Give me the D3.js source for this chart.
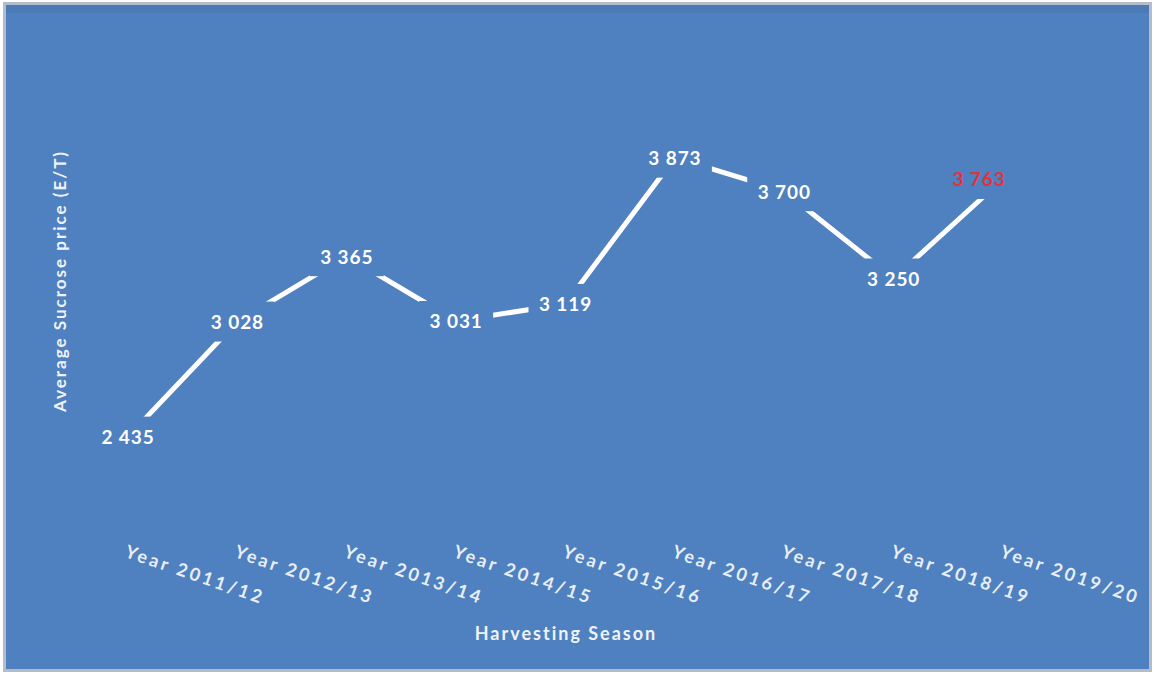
<!DOCTYPE html>
<html>
<head>
<meta charset="utf-8">
<script src="https://cdn.jsdelivr.net/npm/d3@7"></script>
<style>
  html, body { margin: 0; padding: 0; background: #ffffff; }
  svg { display: block; }
  text { font-family: Lato, "Open Sans", sans-serif; }
</style>
</head>
<body>
<svg id="chart" width="1154" height="675"></svg>
<script>
// Harvesting seasons and the average sucrose price for each (E/T)
const seasons = [
  "Year 2011/12", "Year 2012/13", "Year 2013/14", "Year 2014/15", "Year 2015/16",
  "Year 2016/17", "Year 2017/18", "Year 2018/19", "Year 2019/20"
];
const prices = [2435, 3028, 3365, 3031, 3119, 3873, 3700, 3250, 3763];
const xTitle = "Harvesting Season";
const yTitle = "Average Sucrose price (E/T)";

const W = 1154, H = 675;
const bg = "#4f80bf";
const svg = d3.select("#chart");

// chart area frame and fill
svg.append("rect")
  .attr("x", 4.5).attr("y", 3.5).attr("width", W - 8).attr("height", H - 8)
  .attr("fill", bg).attr("stroke", "#b3bcc8").attr("stroke-width", 3);
svg.append("rect")
  .attr("x", 6).attr("y", 5).attr("width", W - 11).attr("height", 8)
  .attr("fill", "#4a78b2").attr("opacity", 0.6);

const x = d3.scalePoint().domain(seasons).range([128, 1003]);
const y = d3.scaleLinear().domain([2000, 4000]).range([521, 133]);

const data = seasons.map((s, i) => ({ season: s, price: prices[i], last: i === seasons.length - 1 }));

// price line
const line = d3.line().x(d => x(d.season)).y(d => y(d.price));
svg.append("path")
  .datum(data)
  .attr("d", line)
  .attr("fill", "none")
  .attr("stroke", "#ffffff")
  .attr("stroke-width", 5)
  .attr("stroke-linejoin", "round");

// value labels sit on a knock-out box in the background colour
const fmt = v => d3.format(",")(v).replace(/,/g, " ");
const labels = svg.append("g").selectAll("g")
  .data(data)
  .join("g")
  .attr("transform", d => `translate(${x(d.season) + (d.last ? -24 : 0)},${y(d.price)})`);

labels.append("rect")
  .attr("x", -37).attr("y", -20).attr("width", 74).attr("height", 40)
  .attr("fill", bg);

labels.append("text")
  .attr("text-anchor", "middle")
  .attr("dominant-baseline", "central")
  .attr("font-size", 19)
  .attr("font-weight", 700)
  .attr("letter-spacing", 0.9)
  .attr("fill", d => d.last ? "#e2333d" : "#ffffff")
  .text(d => fmt(d.price));

// category axis labels, slanted downward
const xAxis = d3.axisBottom(x).tickSize(0).tickPadding(0);
const gx = svg.append("g")
  .attr("transform", "translate(0,544)")
  .call(xAxis);
gx.select(".domain").remove();
gx.selectAll(".tick text")
  .attr("x", 0).attr("y", 0).attr("dy", "0.75em")
  .attr("text-anchor", "start")
  .attr("transform", "rotate(19)")
  .attr("fill", "#e8eef7")
  .attr("font-size", 18)
  .attr("font-weight", 700)
  .attr("font-family", "Lato, sans-serif")
  .attr("letter-spacing", 3);

// axis titles
svg.append("text")
  .attr("x", 566).attr("y", 633)
  .attr("text-anchor", "middle")
  .attr("dominant-baseline", "central")
  .attr("fill", "#eef3fa")
  .attr("font-size", 18)
  .attr("font-weight", 700)
  .attr("letter-spacing", 2)
  .text(xTitle);

svg.append("text")
  .attr("transform", "translate(59,281) rotate(-90)")
  .attr("text-anchor", "middle")
  .attr("dominant-baseline", "central")
  .attr("fill", "#eef3fa")
  .attr("font-size", 17)
  .attr("font-weight", 700)
  .attr("letter-spacing", 2)
  .text(yTitle);
</script>
</body>
</html>
